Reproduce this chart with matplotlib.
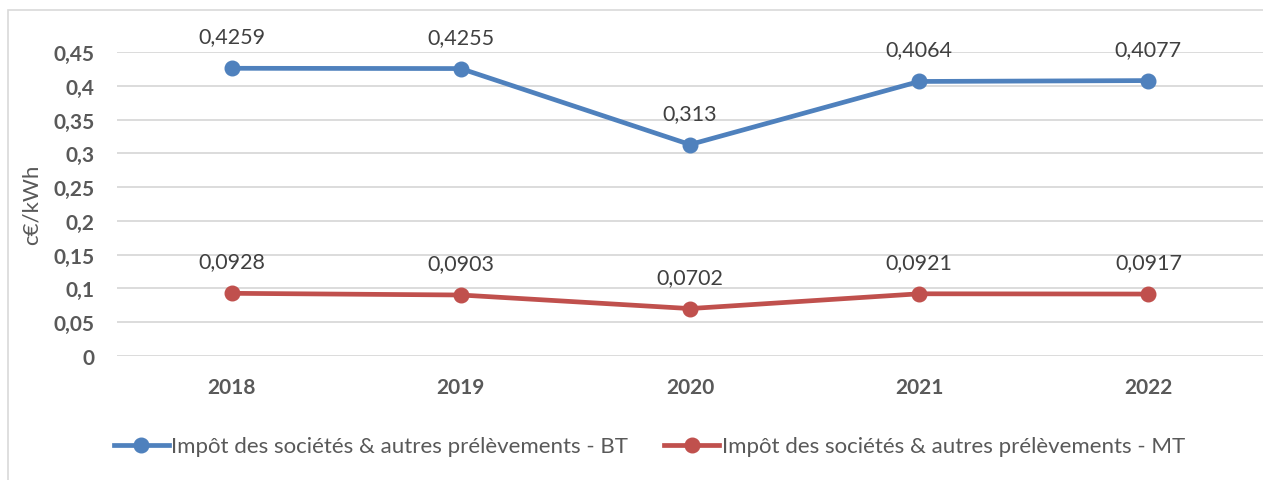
#!/usr/bin/env python3
"""Impôt des sociétés & autres prélèvements (BT / MT), c€/kWh, 2018-2022."""

import matplotlib
matplotlib.use("Agg")
import matplotlib.pyplot as plt
from matplotlib.patches import Rectangle

years = ["2018", "2019", "2020", "2021", "2022"]
bt_values = [0.4259, 0.4255, 0.313, 0.4064, 0.4077]
mt_values = [0.0928, 0.0903, 0.0702, 0.0921, 0.0917]
bt_labels = ["0,4259", "0,4255", "0,313", "0,4064", "0,4077"]
mt_labels = ["0,0928", "0,0903", "0,0702", "0,0921", "0,0917"]
series_names = [
    "Impôt des sociétés & autres prélèvements - BT",
    "Impôt des sociétés & autres prélèvements - MT",
]
y_ticks = [0, 0.05, 0.1, 0.15, 0.2, 0.25, 0.3, 0.35, 0.4, 0.45]
y_tick_labels = ["0", "0,05", "0,1", "0,15", "0,2", "0,25", "0,3", "0,35", "0,4", "0,45"]

BLUE = "#4F81BD"
RED = "#C0504D"
TXT = "#595959"

plt.rcParams["font.family"] = ["Lato", "DejaVu Sans"]

fig = plt.figure(figsize=(12.63, 4.81), dpi=100)
ax = fig.add_axes([0.0926, 0.2578, 0.9074, 0.632])

# chart frame
fig.patches.append(Rectangle((8 / 1263, -0.01), 1.0, (481 - 11) / 481 + 0.01,
                             transform=fig.transFigure, fill=False,
                             edgecolor="#D9D9D9", linewidth=1.2))

x = list(range(len(years)))
for vals, labs, color, name in [(bt_values, bt_labels, BLUE, series_names[0]),
                                (mt_values, mt_labels, RED, series_names[1])]:
    ax.plot(x, vals, color=color, linewidth=3.4, marker="o", markersize=10.5,
            label=name, zorder=3, clip_on=False)
    for xi, v, s in zip(x, vals, labs):
        ax.annotate(s, (xi, v), xytext=(0, 23), textcoords="offset points",
                    ha="center", va="center", fontsize=15.5, color="#404040",
                    annotation_clip=False)

ax.set_xlim(-0.5, len(years) - 0.5)
ax.set_ylim(0, 0.45)
ax.set_xticks(x)
ax.set_xticklabels(years, fontsize=15, fontweight="bold", color=TXT)
ax.set_yticks(y_ticks)
ax.set_yticklabels(y_tick_labels, fontsize=15, fontweight="bold", color=TXT)
ax.tick_params(axis="both", length=0)
ax.tick_params(axis="x", pad=15)
ax.tick_params(axis="y", pad=16)
ax.grid(axis="y", color="#D9D9D9", linewidth=1.3)
ax.set_axisbelow(True)
for sp in ax.spines.values():
    sp.set_visible(False)
ax.set_ylabel("c€/kWh", fontsize=16, color=TXT)
ax.yaxis.set_label_coords(-0.066, 0.5)

fig.legend(loc="center", bbox_to_anchor=(0.514, 0.07), ncol=2, frameon=False,
           fontsize=16, handlelength=2.5, handletextpad=0.1, columnspacing=1.6,
           labelcolor=TXT)

fig.savefig("out.png", dpi=100)
